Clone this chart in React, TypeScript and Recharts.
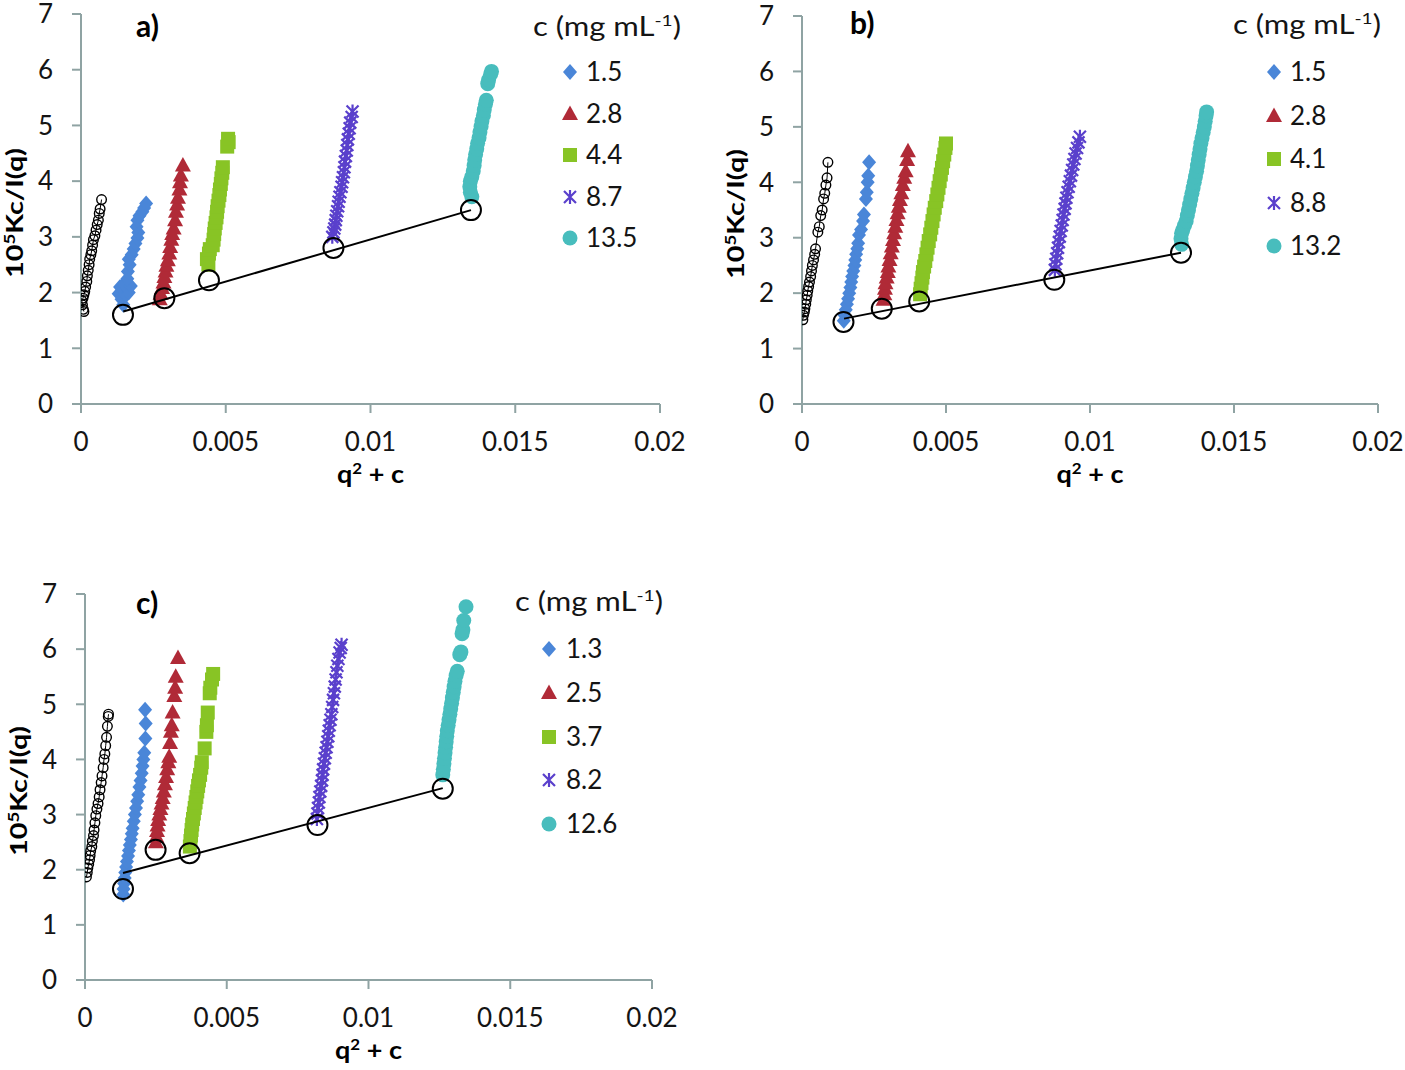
import React from 'react';
import { ScatterChart, Scatter, XAxis, YAxis } from 'recharts';

type Pt = [number, number];
type Kind = 'diamond' | 'triangle' | 'square' | 'star' | 'circle' | 'ring' | 'bigring' | 'none';

const FONT = "Lato, 'Open Sans', sans-serif";
const AXIS = '#8fa3a3';
const INK = '#141414';

const BLUE = '#4a86d8';
const RED = '#b02a37';
const GREEN = '#88c425';
const PURPLE = '#5a40cc';
const TEAL = '#48bdbd';

const kinds: Kind[] = ['diamond', 'triangle', 'square', 'star', 'circle'];
const colors = [BLUE, RED, GREEN, PURPLE, TEAL];

const xTicks = [0, 0.005, 0.01, 0.015, 0.02];
const yTicks = [0, 1, 2, 3, 4, 5, 6, 7];

const labelsA = ['1.5', '2.8', '4.4', '8.7', '13.5'];
const labelsB = ['1.5', '2.8', '4.1', '8.8', '13.2'];
const labelsC = ['1.3', '2.5', '3.7', '8.2', '12.6'];

// ---------- panel a ----------
const aZero: Pt[] = [
    [0.0001, 1.66], [0.00008, 1.7], [0.00005, 1.78], [0.00003, 1.85], [0.00007, 1.9], [0.0001, 1.96],
    [0.00013, 2.02], [0.00016, 2.1], [0.0002, 2.2], [0.00022, 2.3], [0.00025, 2.4], [0.00028, 2.5],
    [0.0003, 2.6], [0.00034, 2.68], [0.00037, 2.75], [0.0004, 2.85], [0.00043, 2.95], [0.00048, 3.02],
    [0.00052, 3.12], [0.00056, 3.22], [0.0006, 3.3], [0.00063, 3.42], [0.00066, 3.5], [0.00071, 3.67],
];
const aBlue: Pt[] = [
    [0.00146, 1.78], [0.0014, 1.88], [0.0013, 1.98], [0.00155, 1.95], [0.00165, 2.0], [0.00135, 2.1],
    [0.00148, 2.15], [0.00172, 2.12], [0.0016, 2.25], [0.00162, 2.38], [0.00168, 2.5], [0.00165, 2.6],
    [0.00175, 2.68], [0.00182, 2.78], [0.00188, 2.88], [0.00195, 2.98], [0.00198, 3.08], [0.00192, 3.18],
    [0.00195, 3.3], [0.00202, 3.38], [0.00212, 3.45], [0.00218, 3.52], [0.00225, 3.6],
];
const aRed: Pt[] = [
    [0.00272, 1.88], [0.00275, 1.98], [0.0028, 2.08], [0.00285, 2.18], [0.00288, 2.28], [0.00292, 2.38],
    [0.00295, 2.48], [0.003, 2.58], [0.00305, 2.7], [0.00308, 2.82], [0.00312, 2.95], [0.00315, 3.05],
    [0.0032, 3.15], [0.00325, 3.3], [0.00328, 3.45], [0.00332, 3.58], [0.00335, 3.7], [0.0034, 3.85],
    [0.00342, 3.98], [0.00345, 4.1], [0.00352, 4.28],
];
const aGreen: Pt[] = [
    [0.0044, 2.5], [0.00435, 2.6], [0.00442, 2.7], [0.00445, 2.78], [0.00455, 2.85], [0.00458, 2.95],
    [0.0046, 3.05], [0.00462, 3.15], [0.00465, 3.25], [0.00468, 3.35], [0.0047, 3.45], [0.00472, 3.55],
    [0.00475, 3.65], [0.00478, 3.75], [0.0048, 3.85], [0.00483, 3.95], [0.00485, 4.05], [0.00488, 4.15],
    [0.0049, 4.25], [0.00505, 4.62], [0.0051, 4.7], [0.00508, 4.76],
];
const aPurple: Pt[] = [
    [0.00868, 3.0], [0.00872, 3.08], [0.00875, 3.15], [0.00878, 3.22], [0.0088, 3.3], [0.00882, 3.38],
    [0.00885, 3.46], [0.00888, 3.55], [0.0089, 3.63], [0.00893, 3.72], [0.00896, 3.8], [0.009, 3.9],
    [0.00902, 3.98], [0.00905, 4.07], [0.00908, 4.16], [0.0091, 4.25], [0.00912, 4.35], [0.00915, 4.45],
    [0.00918, 4.55], [0.0092, 4.65], [0.00922, 4.75], [0.00925, 4.85], [0.00928, 4.95], [0.0093, 5.05],
    [0.00935, 5.15], [0.00938, 5.25],
];
const aTeal: Pt[] = [
    [0.0135, 3.72], [0.01345, 3.8], [0.01343, 3.9], [0.01345, 4.0], [0.0135, 4.08], [0.01355, 4.18],
    [0.01358, 4.28], [0.0136, 4.38], [0.01363, 4.48], [0.01367, 4.58], [0.0137, 4.68], [0.01375, 4.78],
    [0.01378, 4.88], [0.01382, 4.98], [0.01385, 5.08], [0.0139, 5.18], [0.01393, 5.28], [0.01397, 5.38],
    [0.014, 5.45], [0.01405, 5.75], [0.01408, 5.82], [0.01415, 5.92], [0.01418, 5.97],
];
const aBig: Pt[] = [[0.00145, 1.6], [0.00288, 1.9], [0.00442, 2.22], [0.00872, 2.8], [0.01347, 3.48]];
const aFit: Pt[] = [[0.00146, 1.66], [0.01347, 3.48]];

// ---------- panel b ----------
const bZero: Pt[] = [
    [0.00003, 1.52], [0.00005, 1.6], [0.00008, 1.66], [0.0001, 1.72], [0.00013, 1.8], [0.00015, 1.88],
    [0.00018, 1.96], [0.0002, 2.04], [0.00023, 2.12], [0.00026, 2.2], [0.0003, 2.3], [0.00033, 2.4],
    [0.00036, 2.5], [0.0004, 2.6], [0.00044, 2.7], [0.00047, 2.8], [0.00055, 3.1], [0.0006, 3.2],
    [0.00065, 3.4], [0.0007, 3.5], [0.00075, 3.7], [0.00079, 3.8], [0.00083, 3.95], [0.00087, 4.08],
    [0.0009, 4.36],
];
const bBlue: Pt[] = [
    [0.00145, 1.5], [0.00148, 1.6], [0.00152, 1.7], [0.00156, 1.8], [0.0016, 1.9], [0.00164, 2.0],
    [0.00168, 2.1], [0.00171, 2.2], [0.00174, 2.3], [0.00178, 2.4], [0.00182, 2.5], [0.00185, 2.6],
    [0.00188, 2.7], [0.00192, 2.8], [0.00195, 2.9], [0.00198, 3.05], [0.00205, 3.15], [0.00212, 3.3],
    [0.00215, 3.42], [0.00222, 3.7], [0.00225, 3.82], [0.00228, 4.0], [0.0023, 4.12], [0.00233, 4.36],
];
const bRed: Pt[] = [
    [0.00283, 1.88], [0.00286, 1.98], [0.00288, 2.08], [0.0029, 2.18], [0.00294, 2.28], [0.00298, 2.38],
    [0.003, 2.48], [0.00304, 2.6], [0.00308, 2.72], [0.00312, 2.84], [0.00316, 2.96], [0.0032, 3.08],
    [0.00324, 3.2], [0.00328, 3.32], [0.00332, 3.44], [0.00336, 3.56], [0.0034, 3.68], [0.00345, 3.8],
    [0.0035, 3.95], [0.00355, 4.08], [0.0036, 4.2], [0.00365, 4.4], [0.00368, 4.56],
];
const bGreen: Pt[] = [
    [0.0041, 1.98], [0.00412, 2.08], [0.00415, 2.18], [0.00418, 2.28], [0.0042, 2.38], [0.00424, 2.48],
    [0.00428, 2.58], [0.00432, 2.7], [0.00436, 2.82], [0.0044, 2.94], [0.00445, 3.06], [0.00449, 3.18],
    [0.00453, 3.3], [0.00457, 3.42], [0.00461, 3.54], [0.00466, 3.66], [0.0047, 3.78], [0.00474, 3.9],
    [0.00478, 4.02], [0.00482, 4.14], [0.00486, 4.26], [0.0049, 4.38], [0.00494, 4.5], [0.00498, 4.62],
    [0.005, 4.7],
];
const bPurple: Pt[] = [
    [0.00878, 2.42], [0.0088, 2.52], [0.00883, 2.62], [0.00886, 2.72], [0.00889, 2.82], [0.00892, 2.92],
    [0.00895, 3.02], [0.00898, 3.12], [0.00902, 3.22], [0.00905, 3.32], [0.00908, 3.42], [0.00912, 3.52],
    [0.00915, 3.62], [0.00918, 3.72], [0.00922, 3.82], [0.00926, 3.92], [0.0093, 4.02], [0.00934, 4.12],
    [0.00938, 4.22], [0.00942, 4.32], [0.00946, 4.42], [0.0095, 4.52], [0.00955, 4.62], [0.0096, 4.72],
    [0.00965, 4.82],
];
const bTeal: Pt[] = [
    [0.01318, 2.88], [0.01316, 2.98], [0.01318, 3.08], [0.01322, 3.14], [0.01328, 3.22], [0.01334, 3.3],
    [0.01338, 3.4], [0.01342, 3.5], [0.01346, 3.6], [0.0135, 3.7], [0.01354, 3.8], [0.01358, 3.9],
    [0.01362, 4.0], [0.01366, 4.1], [0.0137, 4.2], [0.01373, 4.3], [0.01376, 4.4], [0.01379, 4.5],
    [0.01382, 4.6], [0.01385, 4.7], [0.01389, 4.8], [0.01393, 4.9], [0.01397, 5.0], [0.014, 5.1],
    [0.01403, 5.2], [0.01405, 5.27],
];
const bBig: Pt[] = [[0.00144, 1.48], [0.00277, 1.72], [0.00407, 1.85], [0.00876, 2.24], [0.01316, 2.73]];
const bFit: Pt[] = [[0.00146, 1.54], [0.01316, 2.73]];

// ---------- panel c ----------
const cZero: Pt[] = [
    [0.00005, 1.87], [0.00008, 1.95], [0.0001, 2.03], [0.00013, 2.1], [0.00016, 2.18], [0.00018, 2.26],
    [0.0002, 2.34], [0.00024, 2.42], [0.00026, 2.52], [0.0003, 2.62], [0.00032, 2.72], [0.00035, 2.85],
    [0.00038, 2.98], [0.00042, 3.1], [0.00046, 3.2], [0.0005, 3.32], [0.00053, 3.45], [0.00057, 3.58],
    [0.0006, 3.7], [0.00064, 3.85], [0.00067, 4.0], [0.0007, 4.1], [0.00073, 4.25], [0.00076, 4.4],
    [0.00079, 4.6], [0.00082, 4.78], [0.00083, 4.82],
];
const cBlue: Pt[] = [
    [0.00135, 1.55], [0.00136, 1.65], [0.00138, 1.75], [0.0014, 1.85], [0.00142, 1.95], [0.00145, 2.05],
    [0.00148, 2.15], [0.00152, 2.25], [0.00155, 2.35], [0.00158, 2.45], [0.00162, 2.55], [0.00165, 2.65],
    [0.00168, 2.75], [0.00172, 2.88], [0.00176, 3.0], [0.0018, 3.12], [0.00184, 3.24], [0.00188, 3.36],
    [0.00192, 3.5], [0.00196, 3.62], [0.002, 3.75], [0.00203, 3.88], [0.00206, 4.0], [0.00209, 4.12],
    [0.00213, 4.38], [0.00214, 4.65], [0.00212, 4.9],
];
const cRed: Pt[] = [
    [0.0025, 2.5], [0.00252, 2.6], [0.00254, 2.7], [0.00256, 2.8], [0.00258, 2.9], [0.00262, 3.0],
    [0.00266, 3.1], [0.0027, 3.2], [0.00274, 3.3], [0.00278, 3.42], [0.00282, 3.55], [0.00286, 3.68],
    [0.0029, 3.82], [0.00294, 3.95], [0.00297, 4.05], [0.003, 4.3], [0.00303, 4.5], [0.00306, 4.62],
    [0.00309, 4.85], [0.00315, 5.15], [0.00318, 5.3], [0.0032, 5.5], [0.00328, 5.84],
];
const cGreen: Pt[] = [
    [0.0037, 2.42], [0.00372, 2.52], [0.00374, 2.62], [0.00376, 2.72], [0.00378, 2.82], [0.00381, 2.92],
    [0.00384, 3.02], [0.00387, 3.12], [0.0039, 3.22], [0.00393, 3.32], [0.00396, 3.42], [0.00399, 3.52],
    [0.00402, 3.62], [0.00406, 3.72], [0.0041, 3.85], [0.00412, 3.95], [0.00422, 4.2], [0.00428, 4.5],
    [0.0043, 4.62], [0.00433, 4.85], [0.0044, 5.2], [0.00442, 5.3], [0.00448, 5.45], [0.00452, 5.55],
];
const cPurple: Pt[] = [
    [0.00818, 2.92], [0.0082, 3.02], [0.00822, 3.12], [0.00825, 3.22], [0.00827, 3.32], [0.0083, 3.42],
    [0.00833, 3.52], [0.00836, 3.62], [0.00838, 3.72], [0.0084, 3.82], [0.00843, 3.92], [0.00846, 4.02],
    [0.00849, 4.12], [0.00852, 4.22], [0.00855, 4.32], [0.00858, 4.42], [0.0086, 4.52], [0.00863, 4.62],
    [0.00866, 4.72], [0.00869, 4.82], [0.00872, 4.95], [0.00875, 5.08], [0.00878, 5.2], [0.00881, 5.32],
    [0.00884, 5.45], [0.00887, 5.58], [0.0089, 5.7], [0.00894, 5.82], [0.00898, 5.94], [0.00902, 6.02],
    [0.00905, 6.08],
];
const cTeal: Pt[] = [
    [0.01262, 3.72], [0.01264, 3.82], [0.01266, 3.92], [0.01268, 4.02], [0.0127, 4.12], [0.01272, 4.22],
    [0.01274, 4.32], [0.01276, 4.42], [0.01278, 4.52], [0.01281, 4.62], [0.01284, 4.72], [0.01287, 4.82],
    [0.0129, 4.92], [0.01293, 5.02], [0.01296, 5.12], [0.01299, 5.22], [0.01302, 5.32], [0.01305, 5.42],
    [0.01309, 5.52], [0.01313, 5.6], [0.01322, 5.9], [0.01326, 5.95], [0.0133, 6.28], [0.01333, 6.35],
    [0.01336, 6.52], [0.01344, 6.77],
];
const cBig: Pt[] = [[0.00134, 1.65], [0.00249, 2.36], [0.00369, 2.3], [0.0082, 2.81], [0.01262, 3.47]];
const cFit: Pt[] = [[0.00134, 1.94], [0.01262, 3.48]];

const toXY = (pts: Pt[]) => pts.map(([x, y]) => ({ x, y }));

const marker = (kind: Kind, color: string, cx: number, cy: number) => {
    switch (kind) {
        case 'diamond':
            return <path d={`M${cx},${cy - 8}L${cx + 7},${cy}L${cx},${cy + 8}L${cx - 7},${cy}Z`} fill={color} />;
        case 'triangle':
            return <path d={`M${cx},${cy - 8.5}L${cx + 8},${cy + 6}L${cx - 8},${cy + 6}Z`} fill={color} />;
        case 'square':
            return <rect x={cx - 7} y={cy - 7} width={14} height={14} fill={color} />;
        case 'star':
            return (
                <path
                    d={`M${cx - 6},${cy - 6}L${cx + 6},${cy + 6}M${cx - 6},${cy + 6}L${cx + 6},${cy - 6}M${cx},${cy - 7}L${cx},${cy + 7}`}
                    stroke={color}
                    strokeWidth={2.2}
                    fill="none"
                />
            );
        case 'circle':
            return <circle cx={cx} cy={cy} r={7.5} fill={color} />;
        case 'ring':
            return <circle cx={cx} cy={cy} r={4.8} fill="none" stroke={color} strokeWidth={1.4} />;
        case 'bigring':
            return <circle cx={cx} cy={cy} r={10} fill="none" stroke={color} strokeWidth={2} />;
        default:
            return <g />;
    }
};

const shapeOf = (kind: Kind, color: string) => (p: any) => marker(kind, color, p.cx, p.cy);

interface PanelProps {
    left: number;
    top: number;
    width: number;
    height: number;
    margin: { top: number; right: number; bottom: number; left: number };
    xAxisHeight: number;
    tag: string;
    tagX: number;
    tagY: number;
    labels: string[];
    legendX: number;
    legendY: number;
    markerX: number;
    textX: number;
    rows: number[];
    series: Pt[][];
    zero: Pt[];
    big: Pt[];
    fit: Pt[];
}

// pad keeps the top tick label inside the svg; the panel is shifted up by the same amount
const PAD = 16;

const Panel: React.FC<PanelProps> = (props) => {
    const { left, top, width, height, xAxisHeight, series, zero, big, fit } = props;
    const margin = { ...props.margin, top: props.margin.top + PAD };
    const h = height + PAD;
    const plotLeft = margin.left + 81;
    const plotRight = width - margin.right;
    const plotTop = margin.top;
    const plotBottom = h - margin.bottom - xAxisHeight;
    const tickStyle = { fill: INK, fontSize: 26, fontFamily: FONT };

    return (
        <div style={{ position: 'absolute', left, top: top - PAD, width, height: h }}>
            <ScatterChart width={width} height={h} margin={margin}>
                <XAxis
                    type="number"
                    dataKey="x"
                    domain={[0, 0.02]}
                    ticks={xTicks}
                    allowDataOverflow
                    height={xAxisHeight}
                    tickSize={9}
                    tickMargin={20}
                    axisLine={{ stroke: AXIS, strokeWidth: 2 }}
                    tickLine={{ stroke: AXIS, strokeWidth: 2 }}
                    tick={tickStyle}
                    tickFormatter={(v) => String(v)}
                />
                <YAxis
                    type="number"
                    dataKey="y"
                    domain={[0, 7]}
                    ticks={yTicks}
                    allowDataOverflow
                    width={81}
                    tickSize={9}
                    tickMargin={19}
                    axisLine={{ stroke: AXIS, strokeWidth: 2 }}
                    tickLine={{ stroke: AXIS, strokeWidth: 2 }}
                    tick={tickStyle}
                />
                {series.map((s, i) => (
                    <Scatter
                        key={`s-${i}`}
                        data={toXY(s)}
                        shape={shapeOf(kinds[i], colors[i])}
                        isAnimationActive={false}
                    />
                ))}
                <Scatter
                    data={toXY(zero)}
                    line={{ stroke: '#000', strokeWidth: 1 }}
                    shape={shapeOf('ring', '#000')}
                    isAnimationActive={false}
                />
                <Scatter
                    data={toXY(fit)}
                    line={{ stroke: '#000', strokeWidth: 2 }}
                    shape={shapeOf('none', '#000')}
                    isAnimationActive={false}
                />
                <Scatter data={toXY(big)} shape={shapeOf('bigring', '#000')} isAnimationActive={false} />
            </ScatterChart>
            <svg
                width={width}
                height={h}
                style={{ position: 'absolute', left: 0, top: 0, pointerEvents: 'none' }}
                fontFamily={FONT}
            >
                <g transform={`translate(0,${PAD})`}>
                    <text
                        transform={`translate(${margin.left + 23},${(plotTop + plotBottom) / 2 - PAD + 4}) rotate(-90)`}
                        textAnchor="middle"
                        fontSize={23}
                        fontWeight={700}
                        fill="#000"
                        textLength={130}
                        lengthAdjust="spacingAndGlyphs"
                    >
                        10<tspan dy={-8} fontSize={15}>5</tspan>
                        <tspan dy={8}>Kc/I(q)</tspan>
                    </text>
                    <text
                        x={(plotLeft + plotRight) / 2}
                        y={plotBottom - PAD + 79}
                        textAnchor="middle"
                        fontSize={24}
                        fontWeight={700}
                        fill="#000"
                        textLength={67}
                        lengthAdjust="spacingAndGlyphs"
                    >
                        q<tspan dy={-9} fontSize={15}>2</tspan>
                        <tspan dy={9}> + c</tspan>
                    </text>
                    <text x={props.tagX} y={props.tagY} fontSize={30} fontWeight={700} fill="#000">
                        {props.tag}
                    </text>
                    <text
                        x={props.legendX}
                        y={props.legendY}
                        fontSize={26}
                        fill={INK}
                        textLength={148}
                        lengthAdjust="spacingAndGlyphs"
                    >
                        c (mg mL<tspan dy={-10} fontSize={16}>-1</tspan>
                        <tspan dy={10}>)</tspan>
                    </text>
                    {props.labels.map((lab, i) => (
                        <g key={`lg-${i}`}>
                            {marker(kinds[i], colors[i], props.markerX, props.rows[i])}
                            <text x={props.textX} y={props.rows[i] + 9} fontSize={26} fill={INK}>
                                {lab}
                            </text>
                        </g>
                    ))}
                </g>
            </svg>
        </div>
    );
};

export default function App() {
    return (
        <div
            style={{
                position: 'absolute',
                left: 0,
                top: 0,
                width: 1405,
                height: 1070,
                overflow: 'hidden',
                background: '#fff',
            }}
        >
            <Panel
                left={0}
                top={0}
                width={700}
                height={500}
                margin={{ top: 14, right: 40, bottom: 0, left: 0 }}
                xAxisHeight={96}
                tag="a)"
                tagX={136}
                tagY={37}
                labels={labelsA}
                legendX={533}
                legendY={36}
                markerX={570}
                textX={586}
                rows={[72, 114, 155, 197, 238]}
                series={[aBlue, aRed, aGreen, aPurple, aTeal]}
                zero={aZero}
                big={aBig}
                fit={aFit}
            />
            <Panel
                left={721}
                top={0}
                width={684}
                height={500}
                margin={{ top: 16, right: 27, bottom: 0, left: 0 }}
                xAxisHeight={96}
                tag="b)"
                tagX={129}
                tagY={34}
                labels={labelsB}
                legendX={512}
                legendY={34}
                markerX={553}
                textX={569}
                rows={[72, 116, 159, 203, 246]}
                series={[bBlue, bRed, bGreen, bPurple, bTeal]}
                zero={bZero}
                big={bBig}
                fit={bFit}
            />
            <Panel
                left={4}
                top={580}
                width={700}
                height={490}
                margin={{ top: 14, right: 52, bottom: 0, left: 0 }}
                xAxisHeight={90}
                tag="c)"
                tagX={132}
                tagY={34}
                labels={labelsC}
                legendX={511}
                legendY={31}
                markerX={545}
                textX={562}
                rows={[69, 113, 157, 200, 244]}
                series={[cBlue, cRed, cGreen, cPurple, cTeal]}
                zero={cZero}
                big={cBig}
                fit={cFit}
            />
        </div>
    );
}
